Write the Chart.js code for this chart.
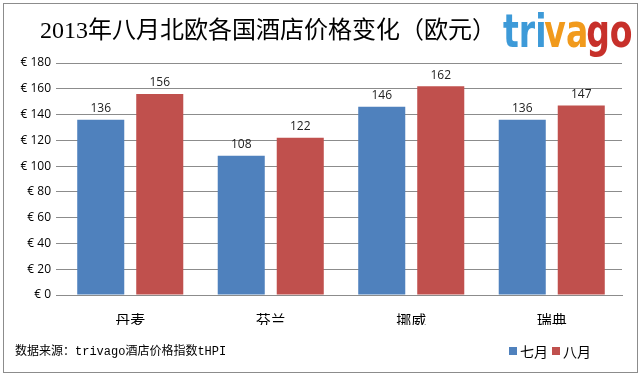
<!DOCTYPE html>
<html>
<head>
<meta charset="utf-8">
<script src="https://cdn.jsdelivr.net/npm/chart.js@4"></script>
<style>
  html, body { margin: 0; padding: 0; background: #fff; }
  #wrap { width: 641px; height: 377px; position: relative; }
</style>
</head>
<body>
<div id="wrap"><canvas id="chart" width="641" height="377"></canvas></div>
<script>
const countries = ['丹麦', '芬兰', '挪威', '瑞典'];
const july = [136, 108, 146, 136];
const august = [156, 122, 162, 147];
const seriesNames = ['七月', '八月'];
const yTicks = [0, 20, 40, 60, 80, 100, 120, 140, 160, 180];

const blue = '#4F81BD';
const red = '#C0504D';
const cjk = '"Noto Sans CJK SC", sans-serif';

// title, logo, source note, legend, border and bar values
const decor = {
    id: 'decor',
    afterDraw(chart) {
        const ctx = chart.ctx;
        ctx.save();

        ctx.strokeStyle = '#8c8c8c';
        ctx.lineWidth = 1;
        ctx.strokeRect(3.5, 3.5, 634, 369);

        ctx.fillStyle = '#000';
        ctx.font = '24px "Liberation Serif", "Noto Sans CJK SC", serif';
        ctx.textAlign = 'center';
        ctx.textBaseline = 'middle';
        ctx.fillText('2013年八月北欧各国酒店价格变化（欧元）', 268, 32);

        // trivago logo
        ctx.font = 'bold 46px "DejaVu Sans", sans-serif';
        ctx.textAlign = 'left';
        ctx.textBaseline = 'alphabetic';
        const parts = [['tri', '#3d9ad8'], ['va', '#f19a1c'], ['go', '#c7302a']];
        ctx.save();
        ctx.translate(503, 47);
        ctx.scale(0.72, 1);
        let off = 0;
        parts.forEach(p => {
            ctx.fillStyle = p[1];
            ctx.fillText(p[0], off, 0);
            off += ctx.measureText(p[0]).width - 3;
        });
        ctx.restore();

        // source
        ctx.fillStyle = '#000';
        ctx.font = '12px "Liberation Mono", "Noto Sans CJK SC", monospace';
        ctx.textBaseline = 'middle';
        ctx.fillText('数据来源：trivago酒店价格指数tHPI', 15, 352);

        // legend
        ctx.font = '14px ' + cjk;
        [[blue, seriesNames[0], 509], [red, seriesNames[1], 552]].forEach(l => {
            ctx.fillStyle = l[0];
            ctx.fillRect(l[2], 347, 8, 8);
            ctx.fillStyle = '#000';
            ctx.fillText(l[1], l[2] + 11, 352);
        });

        // values above bars
        ctx.fillStyle = '#222';
        ctx.font = '12px "Open Sans", "DejaVu Sans", sans-serif';
        ctx.textAlign = 'center';
        ctx.textBaseline = 'bottom';
        chart.data.datasets.forEach((ds, i) => {
            chart.getDatasetMeta(i).data.forEach((bar, j) => {
                ctx.fillText(String(ds.data[j]), bar.x, bar.y - 5);
            });
        });
        ctx.restore();
    }
};

new Chart(document.getElementById('chart'), {
    type: 'bar',
    data: {
        labels: countries,
        datasets: [
            { label: seriesNames[0], data: july, backgroundColor: blue },
            { label: seriesNames[1], data: august, backgroundColor: red }
        ]
    },
    options: {
        responsive: false,
        animation: false,
        layout: { padding: { left: 0, top: 63, right: 19, bottom: 52 } },
        plugins: { legend: { display: false }, title: { display: false }, tooltip: { enabled: false } },
        datasets: { bar: { categoryPercentage: 0.84, barPercentage: 0.797 } },
        scales: {
            x: {
                afterFit(scale) { scale.height = 30; },
                grid: { display: false },
                border: { display: true, color: '#8c8c8c' },
                ticks: { color: '#000', font: { family: cjk, size: 15 }, padding: 8 }
            },
            y: {
                min: 0,
                max: 180,
                afterFit(scale) { scale.width = 60; },
                afterBuildTicks(scale) { scale.ticks = yTicks.map(v => ({ value: v })); },
                border: { display: false },
                grid: { color: '#8c8c8c', tickLength: 4, drawTicks: true },
                ticks: {
                    color: '#000',
                    padding: 5,
                    font: { family: '"Open Sans", "DejaVu Sans", sans-serif', size: 12 },
                    callback: v => '€ ' + v
                }
            }
        }
    },
    plugins: [decor]
});
</script>
</body>
</html>
